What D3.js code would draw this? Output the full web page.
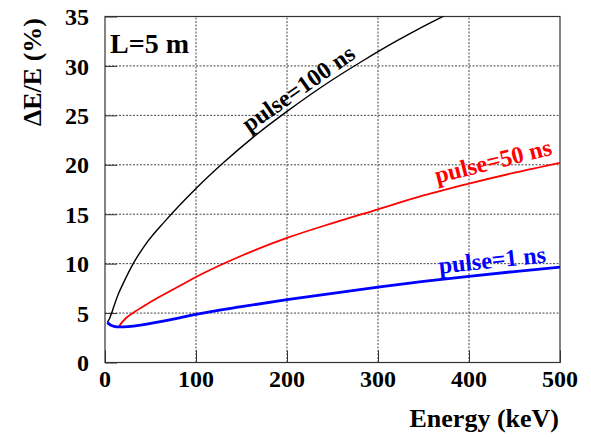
<!DOCTYPE html>
<html>
<head>
<meta charset="utf-8">
<script src="https://cdn.jsdelivr.net/npm/d3@7"></script>
</head>
<body style="margin:0">
<script>
// ---- data ----
const xTicks = [0, 100, 200, 300, 400, 500];
const yTicks = [0, 5, 10, 15, 20, 25, 30, 35];

const pulse100E = [2.5, 5, 7.3, 10, 15, 20, 31, 45, 66, 100, 130, 163, 200, 250, 283, 320, 350, 380];
const pulse100V = [4.05, 4.45, 5.0, 5.75, 7.0, 8.0, 10.0, 12.0, 14.3, 17.6, 20.2, 22.8, 25.4, 28.6, 30.5, 32.5, 34.0, 35.4];

const pulse50E = [15.7, 22, 33, 46, 64, 90, 100, 150, 200, 250, 300, 350, 400, 450, 500];
const pulse50V = [3.72, 4.4, 5.15, 5.9, 6.85, 8.15, 8.65, 10.8, 12.6, 14.1, 15.5, 16.9, 18.1, 19.2, 20.2];

const pulse1E = [2.5, 6, 10, 15, 25, 35, 46, 64, 82, 100, 150, 200, 250, 300, 350, 400, 450, 500];
const pulse1V = [4.03, 3.8, 3.66, 3.6, 3.62, 3.72, 3.88, 4.18, 4.52, 4.87, 5.65, 6.35, 7.0, 7.62, 8.2, 8.72, 9.2, 9.65];

const seriesNames = ["pulse=100 ns", "pulse=50 ns", "pulse=1 ns"];
const seriesColors = ["#000000", "#ff0000", "#0000ff"];

// ---- layout ----
const W = 591, H = 437;
const pLeft = 105, pRight = 560, pTop = 16.5, pBottom = 362.5;

const svg = d3.select("body").append("svg").attr("width", W).attr("height", H)
  .style("display", "block");

const x = d3.scaleLinear().domain([0, 500]).range([pLeft, pRight]);
const y = d3.scaleLinear().domain([0, 35]).range([pBottom, pTop]);

function txt(sel) {
  return sel.attr("font-family", "Liberation Serif").attr("font-weight", "bold")
    .style("font-family", "Liberation Serif").style("font-weight", "bold");
}

// grid
const grid = svg.append("g");
grid.selectAll("line.vx").data(xTicks.slice(1, -1)).enter().append("line")
  .attr("x1", d => x(d)).attr("x2", d => x(d))
  .attr("y1", pBottom).attr("y2", pTop)
  .attr("stroke", "#444").attr("stroke-width", 1).attr("stroke-dasharray", "2,1.5");
grid.selectAll("line.hy").data(yTicks.slice(1, -1)).enter().append("line")
  .attr("x1", pLeft).attr("x2", pRight)
  .attr("y1", d => y(d)).attr("y2", d => y(d))
  .attr("stroke", "#444").attr("stroke-width", 1).attr("stroke-dasharray", "2,1.5");

// axes with inward ticks
const xAxis = d3.axisTop(x).tickValues(xTicks).tickSize(12).tickFormat("");
const yAxis = d3.axisRight(y).tickValues(yTicks).tickSize(12).tickFormat("");
const gx = svg.append("g").attr("transform", `translate(0,${pBottom})`).call(xAxis);
const gy = svg.append("g").attr("transform", `translate(${pLeft},0)`).call(yAxis);
[gx, gy].forEach(g => {
  g.select(".domain").remove();
  g.selectAll("text").remove();
  g.selectAll("line").attr("stroke", "#333").attr("stroke-width", 1);
});

// frame
svg.append("rect").attr("x", pLeft).attr("y", pTop)
  .attr("width", pRight - pLeft).attr("height", pBottom - pTop)
  .attr("fill", "none").attr("stroke", "#333").attr("stroke-width", 1.2);

// tick labels
txt(svg.append("g").selectAll("text").data(xTicks).enter().append("text"))
  .attr("x", d => x(d)).attr("y", 387)
  .attr("text-anchor", "middle").attr("font-size", 24).attr("fill", "#000")
  .text(d => d);
txt(svg.append("g").selectAll("text").data(yTicks).enter().append("text"))
  .attr("x", 89).attr("y", d => y(d)).attr("dy", "0.36em")
  .attr("text-anchor", "end").attr("font-size", 24).attr("fill", "#000")
  .text(d => d);

// axis titles
txt(svg.append("text")).attr("x", 559).attr("y", 427)
  .attr("text-anchor", "end").attr("font-size", 26).text("Energy (keV)");
txt(svg.append("text")).attr("transform", "translate(41,18) rotate(-90)")
  .attr("text-anchor", "end").attr("font-size", 26).text("\u0394E/E (%)");

// in-plot label
txt(svg.append("text")).attr("x", 110).attr("y", 53)
  .attr("font-size", 28).text("L=5 m");

// curves
svg.append("clipPath").attr("id", "plotclip").append("rect")
  .attr("x", pLeft).attr("y", pTop).attr("width", pRight - pLeft).attr("height", pBottom - pTop);

const line = d3.line().x(d => x(d[0])).y(d => y(d[1])).curve(d3.curveMonotoneX);
const series = [
  { E: pulse100E, V: pulse100V, w: 1.4 },
  { E: pulse50E, V: pulse50V, w: 1.8 },
  { E: pulse1E, V: pulse1V, w: 2.8 }
];
series.forEach((s, i) => {
  const pts = s.E.map((e, j) => [e, s.V[j]]);
  svg.append("path").attr("d", line(pts))
    .attr("fill", "none").attr("stroke", seriesColors[i])
    .attr("stroke-width", s.w).attr("clip-path", "url(#plotclip)");
});

// curve labels
const labelPos = [
  { x: 303, y: 95, a: -35 },
  { x: 495, y: 169, a: -14 },
  { x: 493, y: 268, a: -6 }
];
labelPos.forEach((p, i) => {
  txt(svg.append("text"))
    .attr("transform", `translate(${p.x},${p.y}) rotate(${p.a})`)
    .attr("text-anchor", "middle").attr("font-size", 24)
    .attr("fill", seriesColors[i]).text(seriesNames[i]);
});
</script>
</body>
</html>
